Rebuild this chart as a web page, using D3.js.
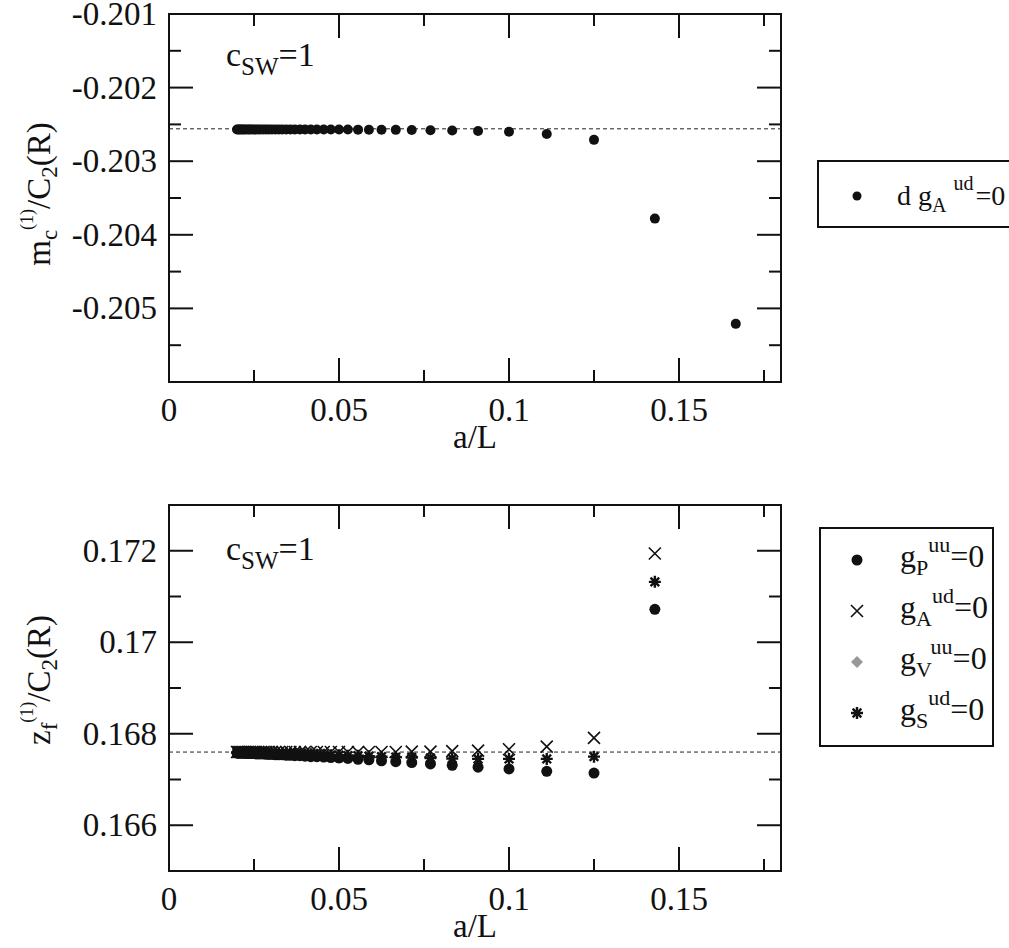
<!DOCTYPE html>
<html>
<head>
<meta charset="utf-8">
<script src="https://cdn.jsdelivr.net/npm/d3@7"></script>
<style>
  body { margin: 0; background: #fff; }
</style>
</head>
<body>
<div id="chart"></div>
<script>
// ---- data ----
// top panel: m_c / C2(R), d g_A^ud = 0, L = 6..50
var aLTop = [0.1667, 0.1429, 0.125, 0.1111, 0.1, 0.0909, 0.0833, 0.0769, 0.0714, 0.0667,
  0.0625, 0.0588, 0.0556, 0.0526, 0.05, 0.0476, 0.0455, 0.0435, 0.0417, 0.04,
  0.0385, 0.037, 0.0357, 0.0345, 0.0333, 0.0323, 0.0313, 0.0303, 0.0294, 0.0286,
  0.0278, 0.027, 0.0263, 0.0256, 0.025, 0.0244, 0.0238, 0.0233, 0.0227, 0.0222,
  0.0217, 0.0213, 0.0208, 0.0204, 0.02];
var mcTop = [-0.20521, -0.20378, -0.20271, -0.20263, -0.20260, -0.20259, -0.202583, -0.202579, -0.202576, -0.202574,
  -0.202573, -0.202572, -0.202571, -0.20257, -0.20257, -0.20257, -0.20257, -0.20257, -0.20257, -0.20257,
  -0.20257, -0.20257, -0.20257, -0.20257, -0.20257, -0.20257, -0.20257, -0.20257, -0.20257, -0.20257,
  -0.20257, -0.20257, -0.20257, -0.20257, -0.20257, -0.20257, -0.20257, -0.20257, -0.20257, -0.20257,
  -0.20257, -0.20257, -0.20257, -0.20257, -0.20257];
var mcLimit = -0.20256;

// bottom panel: z_f / C2(R), L = 7..50
var aLBot = [0.1429, 0.125, 0.1111, 0.1, 0.0909, 0.0833, 0.0769, 0.0714, 0.0667,
  0.0625, 0.0588, 0.0556, 0.0526, 0.05, 0.0476, 0.0455, 0.0435, 0.0417, 0.04,
  0.0385, 0.037, 0.0357, 0.0345, 0.0333, 0.0323, 0.0313, 0.0303, 0.0294, 0.0286,
  0.0278, 0.027, 0.0263, 0.0256, 0.025, 0.0244, 0.0238, 0.0233, 0.0227, 0.0222,
  0.0217, 0.0213, 0.0208, 0.0204, 0.02];
var gP = [0.17072, 0.16714, 0.16718, 0.16723, 0.16727, 0.16731, 0.16734, 0.16737, 0.16739,
  0.16741, 0.16743, 0.16744, 0.16746, 0.16747, 0.16748, 0.16749, 0.1675, 0.1675, 0.16751,
  0.16752, 0.16752, 0.16753, 0.16753, 0.16754, 0.16754, 0.16754, 0.16755, 0.16755, 0.16755,
  0.16756, 0.16756, 0.16756, 0.16756, 0.16757, 0.16757, 0.16757, 0.16757, 0.16757, 0.16758,
  0.16758, 0.16758, 0.16758, 0.16758, 0.16758];
var gA = [0.17194, 0.16791, 0.16772, 0.16766, 0.16763, 0.16762, 0.16761, 0.16761, 0.1676,
  0.1676, 0.1676, 0.1676, 0.1676, 0.1676, 0.1676, 0.1676, 0.1676, 0.1676, 0.1676,
  0.1676, 0.1676, 0.1676, 0.1676, 0.1676, 0.1676, 0.1676, 0.1676, 0.1676, 0.1676,
  0.1676, 0.1676, 0.1676, 0.1676, 0.1676, 0.1676, 0.1676, 0.1676, 0.1676, 0.1676,
  0.1676, 0.1676, 0.1676, 0.1676, 0.1676];
// g_V^uu = 0 sits under the g_P^uu = 0 circles
var gV = gP.slice();
var gS = [0.17132, 0.1675, 0.16745, 0.16745, 0.16745, 0.16746, 0.16747, 0.16748, 0.16749,
  0.1675, 0.16751, 0.16752, 0.16752, 0.16753, 0.16753, 0.16754, 0.16754, 0.16755, 0.16755,
  0.16755, 0.16756, 0.16756, 0.16756, 0.16757, 0.16757, 0.16757, 0.16757, 0.16757, 0.16758,
  0.16758, 0.16758, 0.16758, 0.16758, 0.16758, 0.16758, 0.16759, 0.16759, 0.16759, 0.16759,
  0.16759, 0.16759, 0.16759, 0.16759, 0.16759];
var zfLimit = 0.1676;

// ticks
var xMajor = [0, 0.05, 0.1, 0.15];
var xMinor = [0.025, 0.075, 0.125, 0.175];
var yMajorTop = [-0.201, -0.202, -0.203, -0.204, -0.205, -0.206];
var yMinorTop = [-0.2015, -0.2025, -0.2035, -0.2045, -0.2055];
var yMajorBot = [0.166, 0.168, 0.17, 0.172];
var yMinorBot = [0.167, 0.169, 0.171];

// ---- layout ----
var svgWidth = 1009, svgHeight = 948;
var left = 169, right = 781;
var fontSize = 33;
var fontFam = "'Liberation Serif', monospace";

var svg = d3.select("#chart").append("svg")
  .attr("width", svgWidth)
  .attr("height", svgHeight);

var x = d3.scaleLinear().domain([0, 0.18]).range([left, right]);

// plain text helper, font set on the element itself
function label(g, px, py, size) {
  return g.append("text")
    .attr("x", px).attr("y", py)
    .attr("font-size", size)
    .style("font-family", fontFam)
    .attr("fill", "#111");
}

// inward tick marks along one side (no labels; labels are drawn by hand)
function ticks(g, vals, scale, side, pos, len) {
  g.selectAll(null).data(vals).enter().append("line")
    .attr("x1", d => (side === "h" ? scale(d) : pos))
    .attr("x2", d => (side === "h" ? scale(d) : pos + len))
    .attr("y1", d => (side === "h" ? pos : scale(d)))
    .attr("y2", d => (side === "h" ? pos + len : scale(d)))
    .attr("stroke", "#111").attr("stroke-width", 2);
}

// draw frame, mirrored inward ticks and labels for one panel
function drawFrame(g, y, top, bottom, yMajor, yMinor, yLabelSkip) {
  var fmt = d => (d === 0 ? "0" : String(d));

  ticks(g, xMajor, x, "h", bottom, -24);
  ticks(g, xMinor, x, "h", bottom, -12);
  ticks(g, xMajor, x, "h", top, 24);
  ticks(g, xMinor, x, "h", top, 12);
  ticks(g, yMajor, y, "v", left, 24);
  ticks(g, yMinor, y, "v", left, 12);
  ticks(g, yMajor, y, "v", right, -24);
  ticks(g, yMinor, y, "v", right, -12);

  xMajor.forEach(function(d) {
    label(g, x(d), bottom + 39, fontSize).attr("text-anchor", "middle").text(fmt(d));
  });
  yMajor.forEach(function(d) {
    if (yLabelSkip.indexOf(d) >= 0) return;
    label(g, left - 12, y(d) + 11, fontSize).attr("text-anchor", "end").text(fmt(d));
  });

  g.append("rect")
    .attr("x", left).attr("y", top)
    .attr("width", right - left).attr("height", bottom - top)
    .attr("fill", "none").attr("stroke", "#111").attr("stroke-width", 2);

  label(g, (left + right) / 2, bottom + 66, fontSize).attr("text-anchor", "middle").text("a/L");
}

// marker helpers
function circles(g, xs, ys, y, r, fill) {
  g.selectAll(null).data(xs).enter().append("circle")
    .attr("cx", d => x(d))
    .attr("cy", (d, i) => y(ys[i]))
    .attr("r", r)
    .attr("fill", fill);
}
function crosses(g, xs, ys, y, s) {
  g.selectAll(null).data(xs).enter().append("path")
    .attr("d", (d, i) => {
      var cx = x(d), cy = y(ys[i]);
      return `M${cx - s},${cy - s}L${cx + s},${cy + s}M${cx - s},${cy + s}L${cx + s},${cy - s}`;
    })
    .attr("stroke", "#111").attr("stroke-width", 1.6).attr("fill", "none");
}
function diamonds(g, xs, ys, y, s, fill) {
  g.selectAll(null).data(xs).enter().append("path")
    .attr("d", (d, i) => {
      var cx = x(d), cy = y(ys[i]);
      return `M${cx},${cy - s}L${cx + s},${cy}L${cx},${cy + s}L${cx - s},${cy}Z`;
    })
    .attr("fill", fill);
}
function stars(g, xs, ys, y, s) {
  g.selectAll(null).data(xs).enter().append("path")
    .attr("d", (d, i) => {
      var cx = x(d), cy = y(ys[i]), k = s * 0.72;
      return `M${cx},${cy - s}L${cx},${cy + s}M${cx - s},${cy}L${cx + s},${cy}` +
        `M${cx - k},${cy - k}L${cx + k},${cy + k}M${cx - k},${cy + k}L${cx + k},${cy - k}`;
    })
    .attr("stroke", "#111").attr("stroke-width", 2.4).attr("fill", "none");
}

function dashed(g, y, v) {
  g.append("line")
    .attr("x1", x(0)).attr("x2", x(0.18))
    .attr("y1", y(v)).attr("y2", y(v))
    .attr("stroke", "#222").attr("stroke-width", 1)
    .attr("stroke-dasharray", "4,3");
}

// c_SW = 1 label
function cswLabel(g, px, py) {
  var t = label(g, px, py, 34);
  t.append("tspan").text("c");
  t.append("tspan").attr("font-size", 25).attr("dy", 9).text("SW");
  t.append("tspan").attr("dy", -9).text("=1");
}

// rotated y title: main, sub, sup(1), /C, sub 2, (R)
function yTitle(g, cx, cy, main, sub) {
  var t = label(g, 0, 0, 33)
    .attr("transform", `translate(${cx},${cy}) rotate(-90)`)
    .attr("text-anchor", "middle");
  t.append("tspan").text(main);
  t.append("tspan").attr("font-size", 23).attr("dy", 7).text(sub);
  t.append("tspan").attr("font-size", 18).attr("dy", -24).text("(1)");
  t.append("tspan").attr("dy", 17).text("/C");
  t.append("tspan").attr("font-size", 23).attr("dy", 7).text("2");
  t.append("tspan").attr("dy", -7).text("(R)");
}

// ---- top panel ----
var topG = svg.append("g");
var yTop = d3.scaleLinear().domain([-0.206, -0.201]).range([382, 14]);
drawFrame(topG, yTop, 14, 382, yMajorTop, yMinorTop, [-0.206]);
dashed(topG, yTop, mcLimit);
circles(topG, aLTop, mcTop, yTop, 5, "#111");
cswLabel(topG, 226, 66);
yTitle(topG, 50, 194, "m", "c");

// legend top (box runs off the right edge, as in the picture)
var lg1 = svg.append("g");
lg1.append("rect").attr("x", 818).attr("y", 161).attr("width", 200).attr("height", 66)
  .attr("fill", "#fff").attr("stroke", "#111").attr("stroke-width", 2);
lg1.append("circle").attr("cx", 857).attr("cy", 196).attr("r", 4.5).attr("fill", "#111");
var lt1 = label(lg1, 897, 205, 28);
lt1.append("tspan").text("d g");
lt1.append("tspan").attr("font-size", 20).attr("dy", 7).text("A");
lt1.append("tspan").attr("font-size", 20).attr("dx", 7).attr("dy", -22).text("ud");
lt1.append("tspan").attr("dx", 2).attr("dy", 15).text("=0");

// ---- bottom panel ----
var botG = svg.append("g");
var yBot = d3.scaleLinear().domain([0.165, 0.173]).range([871, 505]);
drawFrame(botG, yBot, 505, 871, yMajorBot, yMinorBot, []);
dashed(botG, yBot, zfLimit);
diamonds(botG, aLBot, gV, yBot, 4.5, "#999");
circles(botG, aLBot, gP, yBot, 5.5, "#111");
crosses(botG, aLBot, gA, yBot, 6);
stars(botG, aLBot, gS, yBot, 6);
cswLabel(botG, 226, 560);
yTitle(botG, 50, 680, "z", "f");

// legend bottom
var lg2 = svg.append("g");
lg2.append("rect").attr("x", 820).attr("y", 528).attr("width", 173).attr("height", 218)
  .attr("fill", "#fff").attr("stroke", "#111").attr("stroke-width", 2);
var legItems = [
  { sym: "circle", sub: "P", sup: "uu" },
  { sym: "cross", sub: "A", sup: "ud" },
  { sym: "diamond", sub: "V", sup: "uu" },
  { sym: "star", sub: "S", sup: "ud" }
];
legItems.forEach(function(item, i) {
  var cy = 560 + i * 51, cx = 857;
  if (item.sym === "circle") {
    lg2.append("circle").attr("cx", cx).attr("cy", cy).attr("r", 5.5).attr("fill", "#111");
  } else if (item.sym === "cross") {
    lg2.append("path").attr("d", `M${cx - 6},${cy - 6}L${cx + 6},${cy + 6}M${cx - 6},${cy + 6}L${cx + 6},${cy - 6}`)
      .attr("stroke", "#111").attr("stroke-width", 1.6);
  } else if (item.sym === "diamond") {
    lg2.append("path").attr("d", `M${cx},${cy - 6}L${cx + 6},${cy}L${cx},${cy + 6}L${cx - 6},${cy}Z`)
      .attr("fill", "#999");
  } else {
    var s = 6, k = 4.3;
    lg2.append("path").attr("d", `M${cx},${cy - s}L${cx},${cy + s}M${cx - s},${cy}L${cx + s},${cy}` +
      `M${cx - k},${cy - k}L${cx + k},${cy + k}M${cx - k},${cy + k}L${cx + k},${cy - k}`)
      .attr("stroke", "#111").attr("stroke-width", 2.4);
  }
  var t = label(lg2, 900, cy + 7, 32);
  t.append("tspan").text("g");
  t.append("tspan").attr("font-size", 22).attr("dy", 8).text(item.sub);
  t.append("tspan").attr("font-size", 22).attr("dy", -23).text(item.sup);
  t.append("tspan").attr("dy", 15).text("=0");
});
</script>
</body>
</html>
